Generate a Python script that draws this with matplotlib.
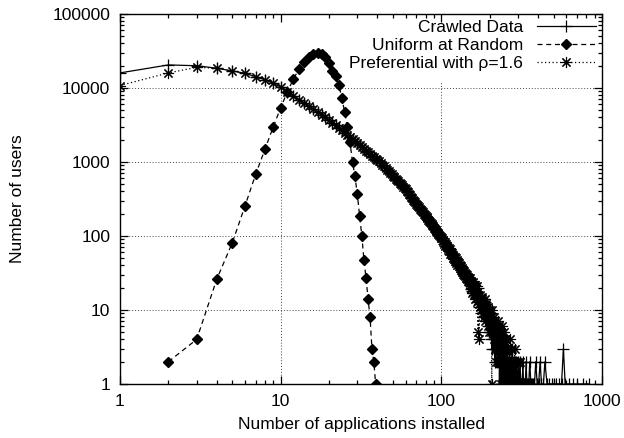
import matplotlib
matplotlib.use("Agg")
from matplotlib import pyplot as plt
from matplotlib.ticker import FixedLocator, LogLocator, NullFormatter
import numpy as np

plt.rcParams['font.family'] = ['Liberation Sans', 'DejaVu Sans']
plt.rcParams['font.size'] = 12.5

# preferential model, one count per number of applications, x = 1..250
pref_y = [10800, 16000, 19000, 18500, 17000, 15800, 14200, 12900, 11600, 10300,
          8900, 7840, 6980, 6270, 5660, 5150, 4720, 4340, 4010, 3720,
          3400, 3120, 2880, 2670, 2480, 2310, 2160, 2020, 1900, 1790,
          1680, 1590, 1500, 1430, 1350, 1290, 1220, 1170, 1110, 1060,
          1020, 975, 923, 875, 832, 791, 753, 718, 684, 653,
          624, 597, 571, 547, 525, 504, 483, 465, 447, 429,
          409, 390, 372, 356, 340, 325, 311, 298, 286, 274,
          263, 253, 243, 233, 224, 216, 208, 200, 193, 186,
          180, 173, 167, 161, 155, 150, 144, 139, 135, 130,
          126, 122, 117, 114, 110, 106, 103, 100, 97, 94,
          95, 86, 88, 79, 83, 74, 78, 70, 73, 66,
          69, 62, 66, 58, 61, 55, 59, 51, 55, 49,
          52, 46, 50, 43, 47, 41, 45, 39, 43, 37,
          40, 35, 39, 33, 37, 31, 35, 30, 34, 29,
          32, 27, 31, 26, 30, 25, 28, 24, 27, 23,
          27, 20, 25, 19, 23, 17, 22, 24, 16, 21,
          18, 22, 14, 19, 17, 21, 13, 16, 5, 15,
          12, 4, 14, 11, 16, 13, 10, 15, 12, 14,
          9, 13, 11, 8, 12, 14, 10, 7, 11, 9,
          12, 8, 10, 6, 9, 11, 7, 8, 5, 10,
          6, 9, 5, 7, 8, 1, 6, 10, 5, 7,
          6, 4, 8, 5, 3, 7, 6, 4, 5, 2,
          6, 3, 5, 4, 7, 2, 4, 5, 3, 6,
          3, 4, 2, 5, 3, 1, 4, 6, 2, 3,
          4, 2, 3, 1, 5, 3, 2, 4, 1, 3]
pref_tail_x = [251, 252, 254, 255, 257, 258, 260, 261, 263, 265,
               266, 268, 270, 271, 272, 274, 275, 276, 278, 280,
               283, 284, 286, 287, 290, 293, 294, 297, 300, 302,
               305, 308, 311, 315, 319, 324, 330, 337, 346]
pref_tail_y = [2, 3, 4, 2, 3, 2, 2, 3, 2, 2,
               4, 2, 3, 1, 2, 1, 3, 1, 2, 2,
               2, 1, 3, 1, 2, 1, 1, 2, 2, 1,
               1, 2, 1, 1, 1, 1, 1, 1, 1]

# crawled data: first three points differ, x = 4..150 lies on the model
crawled_head = [16000, 20500, 20000]
crawled_mid = [22, 26, 19, 24, 21, 18, 25, 17, 20, 23,
               19, 16, 21, 15, 18, 14, 17, 20, 13, 16,
               15, 11, 14, 16, 12, 13, 9, 14, 11, 13,
               12, 10, 14, 9, 11, 8, 13, 10, 9, 12,
               7, 11, 9, 10, 6, 8, 9, 5, 8, 7,
               8, 5, 7, 9, 4, 6, 3, 7, 5, 6,
               4, 7, 3, 5, 6, 2, 5, 4, 3, 5,
               3, 5, 2, 4, 3, 6, 2, 3, 4, 1,
               3, 2, 4, 1, 3, 2, 5, 2, 1, 3,
               2, 3, 1, 2, 4, 1, 2, 3, 1, 2]  # x = 151..250
crawled_tail_x = [252, 253, 255, 256, 258, 260, 261, 263, 265, 266,
                  268, 270, 272, 274, 275, 277, 280, 282, 284, 286,
                  289, 291, 293, 296, 298, 301, 304, 306, 309, 312,
                  315, 318, 322, 325, 329, 333, 337, 341, 346, 350,
                  355, 361, 367, 372, 380, 387, 395, 403, 412, 420,
                  432, 441, 455, 470, 485, 500, 520, 540, 560, 575,
                  590, 620, 660, 700, 760, 830]
crawled_tail_y = [3, 1, 2, 1, 3, 2, 1, 2, 1, 3,
                  1, 2, 1, 2, 1, 3, 1, 2, 1, 1,
                  2, 1, 2, 1, 1, 2, 1, 1, 2, 1,
                  1, 1, 2, 1, 1, 1, 2, 1, 1, 1,
                  2, 1, 1, 1, 1, 2, 1, 1, 2, 1,
                  1, 2, 1, 1, 1, 1, 1, 1, 1, 3,
                  1, 1, 1, 1, 1, 1]

# uniform at random, x = 2..39
unif_y = [2, 4, 26, 81, 255, 690, 1500, 3000, 5400, 8900,
          13200, 18000, 22500, 26300, 28500, 29400, 28800, 26500, 22000, 16800,
          14500, 11000, 7400, 4800, 3000, 1860, 1000, 640, 365, 187,
          100, 47, 27, 14, 8, 3, 2, 1]

pref_x = list(range(1, len(pref_y) + 1)) + pref_tail_x
pref_all = pref_y + pref_tail_y

crawled_y = crawled_head + pref_y[3:150] + crawled_mid
crawled_x = list(range(1, len(crawled_y) + 1)) + crawled_tail_x
crawled_all = crawled_y + crawled_tail_y

unif_x = list(range(2, 2 + len(unif_y)))

fig = plt.figure(figsize=(6.24, 4.38), dpi=100)
ax = fig.add_axes([120 / 624, 54 / 438, 482 / 624, 370 / 438])

ax.plot(crawled_x, crawled_all, color='black', lw=0.9, ls='-',
        marker='+', ms=8, mew=0.9, label='Crawled Data', zorder=3)
ax.plot(unif_x, unif_y, color='black', lw=0.9, ls=(0, (4, 3)),
        marker='D', ms=5, label='Uniform at Random', zorder=4)
ax.plot(pref_x, pref_all, color='black', lw=0.9, ls=(0, (1, 2)),
        marker=(8, 2, 0), ms=8, mew=0.8, label='Preferential with ρ=1.6', zorder=3)

ax.set_xscale('log')
ax.set_yscale('log')
ax.set_xlim(1, 1000)
ax.set_ylim(1, 100000)

xt = [1, 10, 100, 1000]
yt = [1, 10, 100, 1000, 10000, 100000]
ax.xaxis.set_major_locator(FixedLocator(xt))
ax.yaxis.set_major_locator(FixedLocator(yt))
ax.set_xticklabels([str(v) for v in xt])
ax.set_yticklabels([str(v) for v in yt])
ax.xaxis.set_minor_locator(LogLocator(base=10, subs=np.arange(2, 10)))
ax.yaxis.set_minor_locator(LogLocator(base=10, subs=np.arange(2, 10)))
ax.xaxis.set_minor_formatter(NullFormatter())
ax.yaxis.set_minor_formatter(NullFormatter())
ax.tick_params(which='both', direction='in', top=True, right=True, width=0.9)
ax.tick_params(which='major', length=6, pad=7)
ax.tick_params(which='minor', length=3)
for s in ax.spines.values():
    s.set_linewidth(1.0)

# dotted grid; vertical lines stop below the key area as in the original
for v in yt[1:-1]:
    ax.axhline(v, color='#444444', lw=0.7, ls=(0, (1, 2)), zorder=1)
for v in xt[1:-1]:
    ax.axvline(v, ymax=0.82, color='#444444', lw=0.7, ls=(0, (1, 2)), zorder=1)

ax.set_xlabel('Number of applications installed')
ax.set_ylabel('Number of users')
ax.xaxis.set_label_coords(0.5, -0.09)
ax.yaxis.set_label_coords(-0.197, 0.5)

ax.legend(loc='upper right', markerfirst=False, frameon=False,
          handlelength=3.4, handletextpad=0.8, labelspacing=0.15,
          borderaxespad=0.15, borderpad=0.2)

fig.savefig('out.png', dpi=100)
